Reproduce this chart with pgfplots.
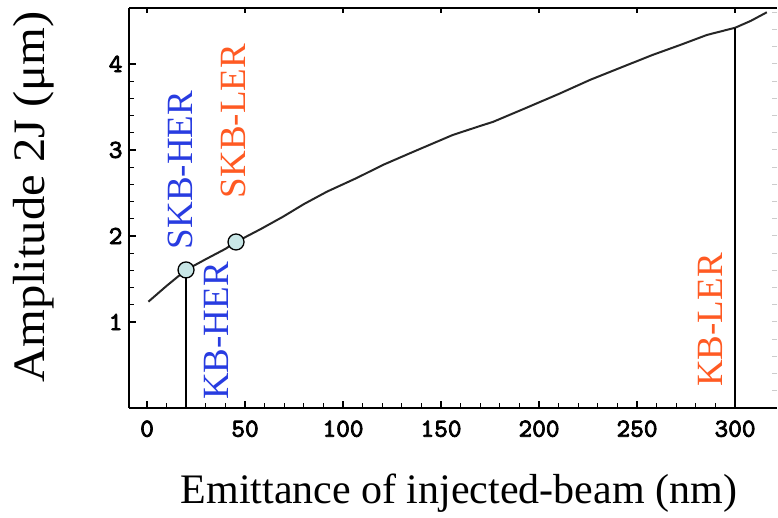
\documentclass[border=0pt]{standalone}
\usepackage{graphicx}
\usepackage{pgfplots}
\pgfplotsset{compat=1.18}
\usepackage{fontspec}
\setmainfont{Liberation Serif}
\newfontfamily\tickfont[FakeBold=3]{lmmono10-regular.otf}
\definecolor{herblue}{RGB}{40,60,225}
\definecolor{lerorange}{RGB}{255,90,35}
\definecolor{markfill}{RGB}{200,230,230}
\begin{document}
\begin{tikzpicture}
\useasboundingbox (-129pt,-110pt) rectangle (649pt,408pt);
% overlay axis: top and right (faint) ticks
\begin{axis}[
  at={(0pt,0pt)}, anchor=south west,
  scale only axis, width=648pt, height=400pt,
  xmin=-9.2, xmax=321.4, ymin=0, ymax=4.65,
  axis x line*=top, axis y line*=right,
  x axis line style={-, line width=1.8pt},
  y axis line style={draw=none},
  tick align=inside,
  xtick={0,50,...,300}, xticklabels={},
  ytick={0.2,0.4,...,4.61}, yticklabels={},
  major tick length=5pt,
  xtick style={line width=1.2pt, black},
  ytick style={line width=1pt, black!20},
]
\end{axis}
\begin{axis}[
  at={(0pt,0pt)}, anchor=south west,
  scale only axis, width=648pt, height=400pt,
  xmin=-9.2, xmax=321.4, ymin=0, ymax=4.65,
  axis x line*=bottom, axis y line*=left,
  axis line style={-, line width=1.8pt},
  tick align=inside,
  xtick={0,50,...,300}, minor x tick num=4,
  ytick={1,2,3,4}, minor y tick num=4,
  major tick length=7pt, minor tick length=5pt,
  tick style={line width=1.2pt, black},
  ticklabel style={font=\tickfont\fontsize{26}{26}\selectfont},
  xticklabel style={yshift=-9pt},
  yticklabel style={xshift=-3pt},
  /pgf/number format/assume math mode=true,
  xlabel={Emittance of injected-beam (nm)},
  ylabel={\scalebox{1.08}[1]{Amplitude 2J (μm)}},
  xlabel style={at={(axis description cs:0.509,-0.2125)}, anchor=center, font=\fontsize{42}{48}\selectfont},
  ylabel style={at={(axis description cs:-0.1466,0.5275)}, anchor=center, font=\fontsize{45}{50}\selectfont},
  clip=false,
]
\addplot[black!85, line width=2pt] coordinates {
(0.7,1.236) (10,1.42) (19.9,1.605) (30,1.73) (40,1.85) (45.4,1.93) (58,2.08)
(69.4,2.224) (80,2.37) (91.8,2.515) (107,2.674) (120.4,2.826) (135.7,2.977)
(156,3.174) (170,3.279) (176.5,3.326) (191.8,3.473) (210,3.65) (226,3.814)
(242,3.96) (258,4.105) (272,4.22) (285.7,4.337) (300,4.42) (308,4.50) (316.2,4.60)
};
\addplot[black, line width=1.3pt] coordinates {(19.9,0) (19.9,1.605)};
\addplot[black, line width=1.3pt] coordinates {(300,0) (300,4.42)};
\addplot[only marks, mark=*, mark size=8pt, mark options={fill=markfill, draw=black, line width=1.3pt}]
  coordinates {(19.9,1.605) (45.4,1.93)};
\node[rotate=90, text=herblue, font=\fontsize{37}{40}\selectfont] at (axis cs:16.8,2.767) {SKB-HER};
\node[rotate=90, text=lerorange, font=\fontsize{37}{40}\selectfont] at (axis cs:43.9,3.337) {SKB-LER};
\node[rotate=90, text=herblue, font=\fontsize{37}{40}\selectfont] at (axis cs:35.2,0.895) {KB-HER};
\node[rotate=90, text=lerorange, font=\fontsize{37}{40}\selectfont] at (axis cs:287.2,1.023) {KB-LER};
\end{axis}
\end{tikzpicture}
\end{document}
